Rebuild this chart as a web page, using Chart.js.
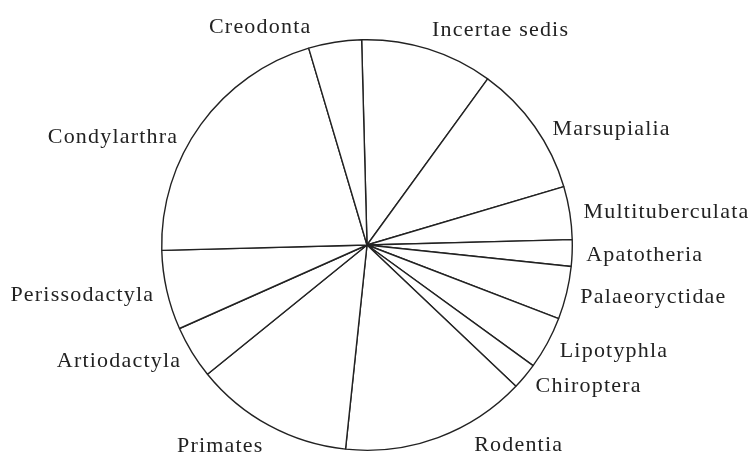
<!DOCTYPE html>
<html>
<head>
<meta charset="utf-8">
<script src="https://cdn.jsdelivr.net/npm/chart.js@4.4.0/dist/chart.umd.min.js"></script>
<style>
  html, body { margin: 0; padding: 0; background: #fff; }
  canvas { display: block; }
</style>
</head>
<body>
<canvas id="pie" width="756" height="453"></canvas>
<script>
// Taxa, clockwise from the top
var taxa = ['Incertae sedis', 'Marsupialia', 'Multituberculata', 'Apatotheria',
            'Palaeoryctidae', 'Lipotyphla', 'Chiroptera', 'Rodentia', 'Primates',
            'Artiodactyla', 'Perissodactyla', 'Condylarthra', 'Creodonta'];
// Number of genera in each group
var genusCounts = [5, 5, 2, 1, 2, 2, 1, 7, 6, 2, 3, 10, 2];

// Labels drawn outside the circle, next to their slice
var outerLabels = {
    id: 'outerLabels',
    afterDatasetsDraw: function(chart, args, opts) {
        var ctx = chart.ctx;
        var meta = chart.getDatasetMeta(0);
        var capH = opts.size * 0.66;
        ctx.save();
        ctx.font = opts.size + 'px "Liberation Serif", "Times New Roman", serif';
        ctx.letterSpacing = opts.letterSpacing + 'px';
        ctx.fillStyle = opts.color;
        ctx.textBaseline = 'alphabetic';
        meta.data.forEach(function(arc, i) {
            var p = arc.getProps(['x', 'y', 'startAngle', 'endAngle', 'outerRadius'], true);
            var shift = (opts.shift[chart.data.labels[i]] || 0) * Math.PI / 180;
            var mid = (p.startAngle + p.endAngle) / 2 + shift;
            var r = p.outerRadius + opts.offset;
            var ax = p.x + Math.cos(mid) * r;
            var ay = p.y + Math.sin(mid) * r;
            var h = Math.cos(mid), v = Math.sin(mid);
            var y;
            if (v < -0.85) y = ay;               // above the circle
            else if (v > 0.85) y = ay + capH;    // below the circle
            else y = ay + capH / 2;
            ctx.textAlign = h >= 0 ? 'left' : 'right';
            var x = h >= 0 ? ax : ax + opts.letterSpacing;
            ctx.fillText(chart.data.labels[i], x, y);
        });
        ctx.restore();
    }
};

var ctx = document.getElementById('pie').getContext('2d');
new Chart(ctx, {
    type: 'pie',
    data: {
        labels: taxa,
        datasets: [{
            data: genusCounts,
            backgroundColor: '#ffffff',
            borderColor: '#222222',
            borderWidth: 1.4,
            hoverOffset: 0
        }]
    },
    options: {
        responsive: false,
        animation: false,
        rotation: -1.5,
        layout: { padding: { left: 0, right: 22, top: 39, bottom: 2 } },
        plugins: {
            legend: { display: false },
            tooltip: { enabled: false },
            outerLabels: {
                size: 22,
                letterSpacing: 1.2,
                color: '#222222',
                offset: 14,
                shift: { 'Marsupialia': 3, 'Condylarthra': -6, 'Creodonta': -6, 'Rodentia': -9 }
            }
        }
    },
    plugins: [outerLabels]
});
</script>
</body>
</html>
